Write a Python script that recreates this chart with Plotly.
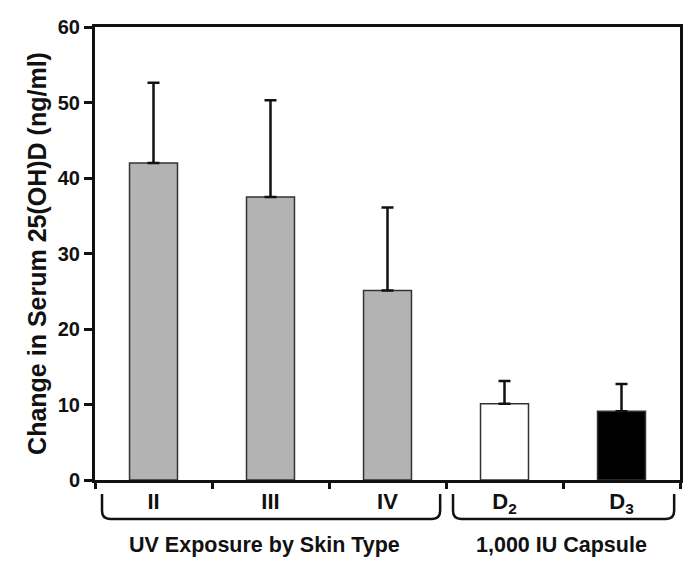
import plotly.graph_objects as go

categories = ["II", "III", "IV", "D<sub>2</sub>", "D<sub>3</sub>"]
means = [42.0, 37.5, 25.1, 10.1, 9.1]
sd_upper = [10.6, 12.8, 11.0, 3.0, 3.6]
fill_colors = ["#b3b3b3", "#b3b3b3", "#b3b3b3", "#ffffff", "#000000"]
group_labels = ["UV Exposure by Skin Type", "1,000 IU Capsule"]
y_ticks = [0, 10, 20, 30, 40, 50, 60]

FONT = "Liberation Sans, Arial, Helvetica, sans-serif"

fig = go.Figure()
fig.add_trace(go.Bar(
    x=categories, y=means,
    width=0.41,
    marker=dict(color=fill_colors, line=dict(color="#333333", width=1.5)),
    error_y=dict(type="data", array=sd_upper, arrayminus=[0]*len(means),
                 symmetric=False, color="#111111", thickness=2.5, width=6),
    showlegend=False,
))

# brackets below category labels (paper coordinates)
def bracket(x0, x1, ytop, ybot, rx, ry):
    return (f"M {x0},{ytop} L {x0},{ybot+ry} Q {x0},{ybot} {x0+rx},{ybot} "
            f"L {x1-rx},{ybot} Q {x1},{ybot} {x1},{ybot+ry} L {x1},{ytop}")

shapes = []
for (x0, x1) in [(0.012, 0.590), (0.612, 0.990)]:
    shapes.append(dict(type="path", xref="paper", yref="paper",
                       path=bracket(x0, x1, -0.031, -0.086, 0.014, 0.018),
                       line=dict(color="#111111", width=2.5)))

annotations = []
for lbl, xc in zip(group_labels, [0.29, 0.797]):
    annotations.append(dict(text=lbl, x=xc, y=-0.1435, xref="paper", yref="paper",
                            showarrow=False, xanchor="center", yanchor="middle",
                            font=dict(family=FONT, size=21.5, color="#111111", weight="bold")))

fig.update_layout(
    width=700, height=581,
    margin=dict(l=87, r=28, t=19, b=109),
    paper_bgcolor="white", plot_bgcolor="white",
    font=dict(family=FONT, color="#111111", size=19, weight="bold"),
    shapes=shapes, annotations=annotations,
)
fig.update_xaxes(
    type="category", tickson="boundaries", automargin=False,
    showline=True, linecolor="#111111", linewidth=3, mirror=True,
    ticks="outside", ticklen=6, tickwidth=2.5, tickcolor="#111111",
    tickfont=dict(family=FONT, size=22, color="#111111", weight="bold"),
    ticklabelstandoff=0,
    showgrid=False, zeroline=False,
)
fig.update_yaxes(
    range=[0, 60], tickvals=y_ticks, automargin=False,
    showline=True, linecolor="#111111", linewidth=3, mirror=True,
    ticks="outside", ticklen=8, tickwidth=2.5, tickcolor="#111111",
    tickfont=dict(family=FONT, size=20, color="#111111", weight="bold"),
    showgrid=False, zeroline=False,
    title=dict(text="Change in Serum 25(OH)D (ng/ml)", standoff=5,
               font=dict(family=FONT, size=25, color="#111111", weight="bold")),
)

fig.write_html("out.html")
